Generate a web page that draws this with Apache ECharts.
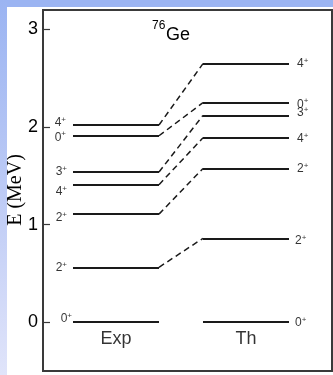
<!DOCTYPE html>
<html>
<head>
<meta charset="utf-8">
<script src="https://cdn.jsdelivr.net/npm/echarts@6/dist/echarts.min.js"></script>
<style>
html,body{margin:0;padding:0;background:#fff;}
#c{width:333px;height:375px;}
</style>
</head>
<body>
<div id="c"></div>
<script>
// ---- data ----
var columns = ['Exp', 'Th'];
var expEnergies = [0, 0.563, 1.108, 1.410, 1.539, 1.911, 2.021];
var expSpins = ['0', '2', '2', '4', '3', '0', '4'];
var thEnergies = [0, 0.86, 1.576, 1.89, 2.12, 2.25, 2.65];
var thSpins = ['0', '2', '2', '4', '3', '0', '4'];
// pairs of [exp index, th index] joined by dashed lines
var links = [[1, 1], [2, 2], [3, 3], [4, 4], [5, 5], [6, 6]];
var yTicks = [0, 1, 2, 3];
var nucleusMass = '76';
var nucleusName = 'Ge';
var axisTitle = 'E (MeV)';

// ---- layout (x in axis units 0..100) ----
var EXP_X0 = 10.38, EXP_X1 = 40.14, TH_X0 = 55.36, TH_X1 = 85.12;
var expLabelDy = [-4, 0, 3, 7, -1, 1, -3];
var expLabelGap = [1, 6, 6, 6, 6, 7, 7];
var thLabelDy = [0, 2, 0, 0, -3, 1, 0];
var thLabelGap = [6, 6, 8, 8, 8, 8, 8];

var levelStyle = {color: '#1a1a1a', width: 2, opacity: 1};
var dashStyle = {color: '#1a1a1a', width: 1.5, type: [6, 4], opacity: 1};

var levelLines = [];
expEnergies.forEach(function (e) {
  levelLines.push({coords: [[EXP_X0, e], [EXP_X1, e]], lineStyle: levelStyle});
});
thEnergies.forEach(function (e) {
  levelLines.push({coords: [[TH_X0, e], [TH_X1, e]], lineStyle: levelStyle});
});
var dashLines = links.map(function (p) {
  return {coords: [[EXP_X1, expEnergies[p[0]]], [TH_X0, thEnergies[p[1]]]], lineStyle: dashStyle};
});

var rich = {
  d: {fontSize: 12, fontFamily: 'Liberation Sans', color: '#000', verticalAlign: 'bottom', lineHeight: 13},
  s: {fontSize: 8, fontFamily: 'Liberation Sans', color: '#000', verticalAlign: 'bottom', lineHeight: 13, padding: [0, 0, 5, 0]}
};

var expLabels = expEnergies.map(function (e, i) {
  return {
    value: [EXP_X0, e],
    label: {position: 'left', distance: expLabelGap[i], offset: [0, expLabelDy[i]],
      formatter: '{d|' + expSpins[i] + '}{s|+}'}
  };
});
var thLabels = thEnergies.map(function (e, i) {
  return {
    value: [TH_X1, e],
    label: {position: 'right', distance: thLabelGap[i], offset: [0, thLabelDy[i]],
      formatter: '{d|' + thSpins[i] + '}{s|+}'}
  };
});
var colLabels = columns.map(function (c, i) {
  var x = i === 0 ? (EXP_X0 + EXP_X1) / 2 : (TH_X0 + TH_X1) / 2;
  return {value: [x, -0.175], label: {formatter: c}};
});

var chart = echarts.init(document.getElementById('c'), null, {renderer: 'canvas'});
chart.setOption({
  animation: false,
  backgroundColor: '#fff',
  grid: {left: 43, right: 1, top: 10, bottom: 4, show: true, borderColor: '#3a3a3a', borderWidth: 2, backgroundColor: '#fff'},
  xAxis: {type: 'value', min: 0, max: 100, show: false},
  yAxis: {
    type: 'value', min: -0.5, max: 3.2,
    splitLine: {show: false},
    axisLine: {show: false},
    axisTick: {show: true, inside: true, length: 7, lineStyle: {color: '#3a3a3a', width: 1.2}, customValues: yTicks},
    axisLabel: {customValues: yTicks, fontSize: 18, fontFamily: 'Liberation Sans', color: '#000', margin: 5}
  },
  graphic: [
    {type: 'rect', left: 0, top: 0, shape: {width: 333, height: 7}, style: {fill: '#9bb4f2'}, z: 10},
    {type: 'rect', left: 0, top: 0, shape: {width: 7, height: 375},
      style: {fill: new echarts.graphic.LinearGradient(0, 0, 0, 1, [
        {offset: 0, color: '#9bb4f2'}, {offset: 0.5, color: '#bccaf5'}, {offset: 1, color: '#e0e4fa'}])}, z: 10},
    {type: 'text', x: 16, y: 190, rotation: Math.PI / 2,
      style: {text: axisTitle, fontSize: 20, fontFamily: 'Liberation Serif', fill: '#000', align: 'center', verticalAlign: 'middle'}},
    {type: 'text', x: 152, y: 26,
      style: {text: nucleusMass, fontSize: 12, fontFamily: 'Liberation Sans', fill: '#000', align: 'left', verticalAlign: 'middle'}},
    {type: 'text', x: 166, y: 35,
      style: {text: nucleusName, fontSize: 18, fontFamily: 'Liberation Sans', fill: '#000', align: 'left', verticalAlign: 'middle'}}
  ],
  series: [
    {type: 'lines', coordinateSystem: 'cartesian2d', silent: true, data: levelLines, lineStyle: levelStyle},
    {type: 'lines', coordinateSystem: 'cartesian2d', silent: true, data: dashLines, lineStyle: dashStyle},
    {type: 'scatter', symbolSize: 0, silent: true, data: expLabels.concat(thLabels),
      label: {show: true, rich: rich}},
    {type: 'scatter', symbolSize: 0, silent: true, data: colLabels,
      label: {show: true, position: 'inside', fontSize: 18, fontFamily: 'Liberation Sans', color: '#000'}}
  ]
});
</script>
</body>
</html>
